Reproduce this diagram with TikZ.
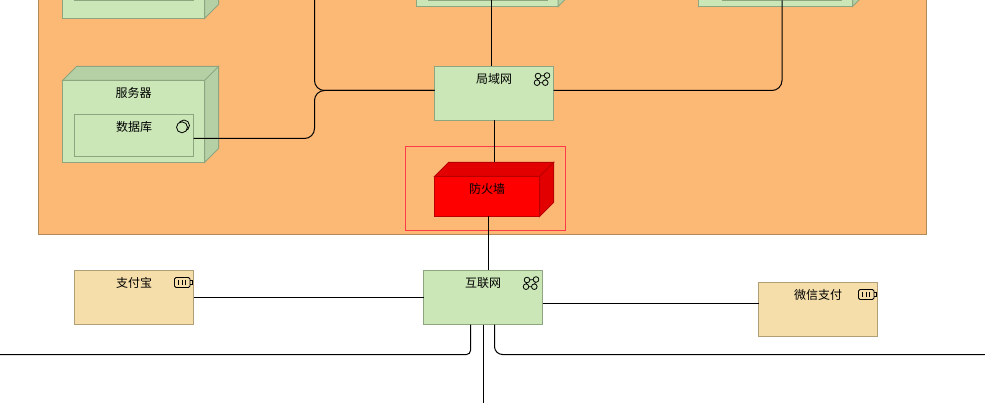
\documentclass[tikz,border=0pt]{standalone}
\usepackage{fontspec}
\setmainfont{Noto Sans CJK SC}
\usetikzlibrary{calc}
\definecolor{zonefill}{HTML}{FCB875}
\definecolor{zoneline}{HTML}{B28A58}
\definecolor{techfill}{HTML}{CBE7B8}
\definecolor{techside}{HTML}{B5D0A5}
\definecolor{techline}{HTML}{8DA680}
\definecolor{payfill}{HTML}{F5DEAA}
\definecolor{payline}{HTML}{B09E75}
\definecolor{wallfill}{HTML}{FF0000}
\definecolor{wallside}{HTML}{E30000}
\definecolor{wallline}{HTML}{B80000}
\definecolor{groupline}{HTML}{FF3B47}
\newcommand{\depth}{14}
\newcommand{\sides}[3]{
    \filldraw[line width=1pt, fill=#2, draw=#3]
        (#1.north west) -- ++(\depth,-\depth) -- ($(#1.north east)+(\depth,-\depth)$) -- (#1.north east) -- cycle
        (#1.north east) -- ++(\depth,-\depth) -- ($(#1.south east)+(\depth,-\depth)$) -- (#1.south east) -- cycle;
}
\newcommand{\neticon}[1]{
    \begin{scope}[shift={(#1.north east)}, line width=.8pt]
        \draw (-15.5,9.5) circle (2.8) (-6.5,9) circle (2.8) (-16.5,16.2) circle (2.8) (-8.2,16.2) circle (2.8);
        \draw (-12.7,9.4) -- (-9.3,9.1) (-13.7,16.2) -- (-11,16.2) (-15.8,12.3) -- (-16.2,13.4) (-7,11.8) -- (-7.8,13.4);
    \end{scope}
}
\newcommand{\batteryicon}[1]{
    \begin{scope}[shift={(#1.north east)}, line width=.8pt]
        \draw[rounded corners=1.5] (-19,7) rectangle (-3.5,17);
        \draw (-3.5,10) -- (-1.5,10) -- (-1.5,14) -- (-3.5,14);
        \draw (-15,9.5) -- (-15,14.5) (-11.5,9.5) -- (-11.5,14.5) (-8,9.5) -- (-8,14.5);
    \end{scope}
}
\newcommand{\serviceicon}[1]{
    \begin{scope}[shift={(#1.north east)}, line width=.8pt]
        \draw (-9.5,11) circle (5.5);
        \draw[fill=techfill] (-11.5,12.8) circle (5.5);
    \end{scope}
}
\tikzset{
    x=1pt, y=-1pt,
    common/.style={anchor=north west, draw, rectangle, line width=1pt, inner sep=0pt, outer sep=0pt},
    title/.style={label={[anchor=center, yshift=-12.5pt, font=\fontsize{12pt}{14pt}\selectfont]north:#1}},
    tech/.style={common, fill=techfill, draw=techline},
    front/.style={tech, minimum height=82pt},
    inbox/.style={tech, minimum width=119pt, minimum height=42pt},
    net/.style={tech, minimum width=119pt, minimum height=54pt},
    pay/.style={common, fill=payfill, draw=payline, minimum width=119pt, minimum height=54pt},
    link/.style={draw=black, line width=1pt},
}

\begin{document}
\begin{tikzpicture}
    \useasboundingbox (0,0) rectangle (985,403);
    \clip (0,0) rectangle (985,403);

    \node[common, fill=zonefill, draw=zoneline, minimum width=888pt, minimum height=274.5pt] (zone) at (38.5,-40) {};

    % boxes cut by the top edge
    \node[front, minimum width=142pt] (leftbox) at (62.5,-63.5) {};
    \sides{leftbox}{techside}{techline}
    \node[inbox] (leftin) at (74.5,-41.7) {};
    \node[front, minimum width=141.5pt] (midbox) at (416.5,-75.5) {};
    \sides{midbox}{techside}{techline}
    \node[inbox] (midin) at (428.5,-41.7) {};
    \node[front, minimum width=154pt] (rightbox) at (698.5,-75.5) {};
    \sides{rightbox}{techside}{techline}
    \node[inbox] (rightin) at (722.5,-41.7) {};

    \node[front, minimum width=142pt, title=服务器] (server) at (62.5,80.5) {};
    \sides{server}{techside}{techline}
    \node[inbox, title=数据库] (db) at (74.5,114.5) {};
    \serviceicon{db}

    \node[net, title=局域网] (lan) at (434.5,66.5) {};
    \neticon{lan}

    \node[common, draw=groupline, minimum width=160pt, minimum height=84pt] (wallgroup) at (405.5,146.5) {};
    \node[common, fill=wallfill, draw=wallline, minimum width=105pt, minimum height=40pt, title=防火墙] (wall) at (434.5,176.5) {};
    \sides{wall}{wallside}{wallline}

    \node[net, title=互联网] (web) at (423.5,270.5) {};
    \neticon{web}
    \node[pay, title=支付宝] (alipay) at (74.5,270.5) {};
    \batteryicon{alipay}
    \node[pay, title=微信支付] (wechat) at (758.5,282.5) {};
    \batteryicon{wechat}

    \coordinate (lanup) at (314.5,-5);
    \coordinate (lanleft) at ([yshift=3pt]lan.west);
    \coordinate (lanright) at ([yshift=3pt]lan.east);
    \coordinate (walltop) at ($(wall.north)+(0,-\depth)$);
    \coordinate (webdown) at ([xshift=.5pt]web.south);
    \coordinate (leftout) at (0,354.5);
    \coordinate (rightout) at (985,354.5);
    \coordinate (downout) at (webdown |- 0,403);

    \draw[link, rounded corners=10pt] (lanup) |- (lanleft);
    \draw[link, rounded corners=10pt] ([yshift=-3pt]db.east) -| (lanup |- lanleft) -- (lanleft);
    \draw[link] ([xshift=3pt]midin.south) -- ([xshift=3pt]midin.south |- lan.north);
    \draw[link, rounded corners=10pt] (lanright) -| (rightin.south);
    \draw[link] (lan.south) -- (lan.south |- walltop);
    \draw[link] ([xshift=1.5pt]wall.south) -- ([xshift=1.5pt]wall.south |- web.north);
    \draw[link] (alipay.east) -- (alipay.east -| web.west);
    \draw[link] ([yshift=6pt]wechat.west) -- ([yshift=6pt]wechat.west -| web.east);
    \draw[link, rounded corners=4pt] ([xshift=-12.5pt]web.south) |- (leftout);
    \draw[link] (webdown) -- (downout);
    \draw[link, rounded corners=8pt] ([xshift=11.5pt]web.south) |- (rightout);
\end{tikzpicture}
\end{document}
